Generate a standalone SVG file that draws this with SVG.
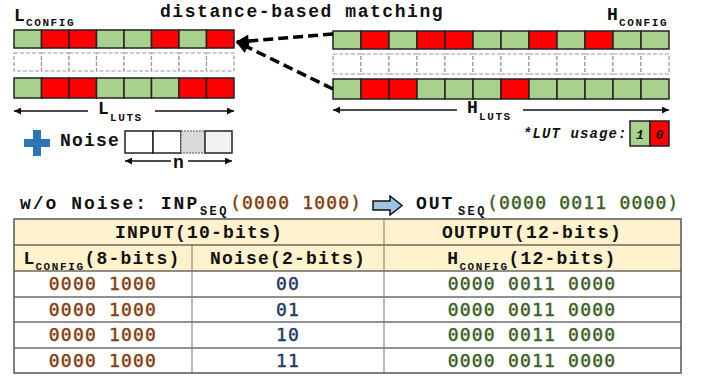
<svg xmlns="http://www.w3.org/2000/svg" width="702" height="377" viewBox="0 0 702 377">
<style>
.b{font-family:"Liberation Mono","Courier New",monospace;font-weight:bold;font-size:18px;letter-spacing:1.2px;fill:#111}
.sub{font-size:11px;letter-spacing:1.6px}
.d{font-family:"DejaVu Sans Mono",monospace;font-size:18px;letter-spacing:1.2px;stroke-width:0.45px}
.br{fill:#843C0C;stroke:#843C0C}.bl{fill:#1F3864;stroke:#1F3864}.gr{fill:#3B5E23;stroke:#3B5E23}
.g{fill:#A9D18E;stroke:#222;stroke-width:1.5}
.r{fill:#FF0000;stroke:#222;stroke-width:1.5}
.e{fill:#fff;stroke:#999;stroke-width:1.2;stroke-dasharray:4 2}
.ln{stroke:#111;stroke-width:1.5;fill:none}
.dash{stroke:#000;stroke-width:3.5;stroke-dasharray:10 5;fill:none}
.tl{stroke:#222;stroke-width:1;fill:none}
.tv{stroke:#777;stroke-width:1;fill:none}
</style>
<defs>
<marker id="ah" viewBox="0 0 10 10" refX="10" refY="5" markerWidth="9" markerHeight="7" markerUnits="userSpaceOnUse" orient="auto"><path d="M0,0L10,5L0,10z" fill="#111"/></marker>
<marker id="big" viewBox="0 0 10 10" refX="9" refY="5" markerWidth="15" markerHeight="13" markerUnits="userSpaceOnUse" orient="auto"><path d="M0,0L10,5L0,10z" fill="#000"/></marker>
</defs>

<text class="b" x="160" y="17" style="letter-spacing:1.55px">distance-based matching</text>

<g id="lconfig">
<text class="b" x="14" y="21">L<tspan class="sub" dy="5">CONFIG</tspan></text>
<g>
<rect class="g" x="14" y="30" width="27.5" height="18"/><rect class="r" x="41.5" y="30" width="27.5" height="18"/><rect class="r" x="69" y="30" width="27.5" height="18"/><rect class="g" x="96.5" y="30" width="27.5" height="18"/><rect class="g" x="124" y="30" width="27.5" height="18"/><rect class="r" x="151.5" y="30" width="27.5" height="18"/><rect class="g" x="179" y="30" width="27.5" height="18"/><rect class="r" x="206.5" y="30" width="27.5" height="18"/>
</g>
<g>
<rect class="e" x="14" y="53" width="27.5" height="18"/><rect class="e" x="41.5" y="53" width="27.5" height="18"/><rect class="e" x="69" y="53" width="27.5" height="18"/><rect class="e" x="96.5" y="53" width="27.5" height="18"/><rect class="e" x="124" y="53" width="27.5" height="18"/><rect class="e" x="151.5" y="53" width="27.5" height="18"/><rect class="e" x="179" y="53" width="27.5" height="18"/><rect class="e" x="206.5" y="53" width="27.5" height="18"/>
</g>
<g>
<rect class="g" x="14" y="78" width="27.5" height="20"/><rect class="r" x="41.5" y="78" width="27.5" height="20"/><rect class="r" x="69" y="78" width="27.5" height="20"/><rect class="g" x="96.5" y="78" width="27.5" height="20"/><rect class="g" x="124" y="78" width="27.5" height="20"/><rect class="g" x="151.5" y="78" width="27.5" height="20"/><rect class="r" x="179" y="78" width="27.5" height="20"/><rect class="r" x="206.5" y="78" width="27.5" height="20"/>
</g>
</g>

<g id="llut">
<line class="ln" x1="88" y1="111" x2="14" y2="111" marker-end="url(#ah)"/>
<line class="ln" x1="155" y1="111" x2="234" y2="111" marker-end="url(#ah)"/>
<text class="b" x="98" y="114">L<tspan class="sub" dy="7">LUTS</tspan></text>
</g>

<g id="hconfig">
<text class="b" x="607" y="20">H<tspan class="sub" dy="6">CONFIG</tspan></text>
<g>
<rect class="g" x="333" y="31" width="28" height="18"/><rect class="r" x="361" y="31" width="28" height="18"/><rect class="g" x="389" y="31" width="28" height="18"/><rect class="r" x="417" y="31" width="28" height="18"/><rect class="r" x="445" y="31" width="28" height="18"/><rect class="g" x="473" y="31" width="28" height="18"/><rect class="g" x="501" y="31" width="28" height="18"/><rect class="r" x="529" y="31" width="28" height="18"/><rect class="g" x="557" y="31" width="28" height="18"/><rect class="r" x="585" y="31" width="28" height="18"/><rect class="g" x="613" y="31" width="28" height="18"/><rect class="g" x="641" y="31" width="28" height="18"/>
</g>
<g>
<rect class="e" x="333" y="54" width="28" height="20"/><rect class="e" x="361" y="54" width="28" height="20"/><rect class="e" x="389" y="54" width="28" height="20"/><rect class="e" x="417" y="54" width="28" height="20"/><rect class="e" x="445" y="54" width="28" height="20"/><rect class="e" x="473" y="54" width="28" height="20"/><rect class="e" x="501" y="54" width="28" height="20"/><rect class="e" x="529" y="54" width="28" height="20"/><rect class="e" x="557" y="54" width="28" height="20"/><rect class="e" x="585" y="54" width="28" height="20"/><rect class="e" x="613" y="54" width="28" height="20"/><rect class="e" x="641" y="54" width="28" height="20"/>
</g>
<g>
<rect class="g" x="333" y="79" width="28" height="20"/><rect class="r" x="361" y="79" width="28" height="20"/><rect class="r" x="389" y="79" width="28" height="20"/><rect class="g" x="417" y="79" width="28" height="20"/><rect class="g" x="445" y="79" width="28" height="20"/><rect class="g" x="473" y="79" width="28" height="20"/><rect class="r" x="501" y="79" width="28" height="20"/><rect class="g" x="529" y="79" width="28" height="20"/><rect class="g" x="557" y="79" width="28" height="20"/><rect class="g" x="585" y="79" width="28" height="20"/><rect class="g" x="613" y="79" width="28" height="20"/><rect class="g" x="641" y="79" width="28" height="20"/>
</g>
</g>

<g id="hlut">
<line class="ln" x1="457" y1="110" x2="333" y2="110" marker-end="url(#ah)"/>
<line class="ln" x1="523" y1="110" x2="669" y2="110" marker-end="url(#ah)"/>
<text class="b" x="467" y="113">H<tspan class="sub" dy="7">LUTS</tspan></text>
</g>

<g id="connectors">
<line class="dash" x1="333" y1="34" x2="237" y2="42" marker-end="url(#big)"/>
<line class="dash" x1="333" y1="89" x2="237" y2="42" marker-end="url(#big)"/>
</g>

<g id="noise">
<rect x="24" y="139" width="26" height="8" fill="#2E75B6"/>
<rect x="33" y="130" width="8" height="26" fill="#2E75B6"/>
<text class="b" x="60" y="146">Noise</text>
<rect x="125" y="131" width="28" height="22" fill="#fff" stroke="#222" stroke-width="1.5"/>
<rect x="153" y="131" width="28" height="22" fill="#fff" stroke="#222" stroke-width="1.5"/>
<rect x="181" y="131" width="24" height="22" fill="#D9D9D9" stroke="#555" stroke-width="1" stroke-dasharray="2 1"/>
<rect x="205" y="131" width="27" height="22" fill="#F2F2F2" stroke="#222" stroke-width="1.5"/>
<line class="ln" x1="171" y1="161" x2="125" y2="161" marker-end="url(#ah)"/>
<line class="ln" x1="188" y1="161" x2="232" y2="161" marker-end="url(#ah)"/>
<text class="b" x="179" y="168" text-anchor="middle">n</text>
</g>

<g id="legend">
<text class="b" x="523" y="138" style="font-size:14px;font-style:italic;letter-spacing:1.1px">*LUT usage:</text>
<rect class="g" x="630" y="121" width="20" height="25"/>
<rect class="r" x="650" y="121" width="19" height="25"/>
<text class="b" x="640" y="139" text-anchor="middle" style="font-size:13px;font-style:italic;letter-spacing:0">1</text>
<text class="b" x="659.5" y="139" text-anchor="middle" style="font-size:13px;font-style:italic;letter-spacing:0">0</text>
</g>

<g id="seqline">
<text class="b" x="20" y="209" style="letter-spacing:2px">w/o Noise: INP</text>
<text class="b sub" x="200" y="215" style="font-size:12px;letter-spacing:2.4px">SEQ</text>
<text class="d br" x="230" y="209">(0000 1000)</text>
<path d="M373,201H390V196L402,205.5L390,215V210H373Z" fill="#9DC3E6" stroke="#111" stroke-width="1.5"/>
<text class="b" x="416" y="209" style="letter-spacing:2px">OUT</text>
<text class="b sub" x="458" y="215" style="font-size:12px;letter-spacing:2.4px">SEQ</text>
<text class="d gr" x="487" y="209">(0000 0011 0000)</text>
</g>

<g id="table">
<rect x="14" y="219" width="667" height="52" fill="#FFF2CC"/>
<line class="tl" x1="14" y1="245" x2="681" y2="245"/>
<line class="tl" x1="14" y1="271" x2="681" y2="271"/>
<line class="tl" x1="14" y1="297" x2="681" y2="297"/>
<line class="tl" x1="14" y1="322" x2="681" y2="322"/>
<line class="tl" x1="14" y1="348" x2="681" y2="348"/>
<line class="tv" x1="384" y1="219" x2="384" y2="373"/>
<line class="tv" x1="192" y1="245" x2="192" y2="373"/>
<rect x="14" y="219" width="667" height="154" fill="none" stroke="#555" stroke-width="1.5"/>
<text class="b" x="199" y="238" text-anchor="middle">INPUT(10-bits)</text>
<text class="b" x="532" y="238" text-anchor="middle">OUTPUT(12-bits)</text>
<text class="b" x="102" y="264" text-anchor="middle">L<tspan class="sub" dy="6">CONFIG</tspan><tspan dy="-6">(8-bits)</tspan></text>
<text class="b" x="288" y="264" text-anchor="middle">Noise(2-bits)</text>
<text class="b" x="532" y="264" text-anchor="middle">H<tspan class="sub" dy="6">CONFIG</tspan><tspan dy="-6">(12-bits)</tspan></text>
<g text-anchor="middle">
<text class="d br" x="103" y="290">0000 1000</text>
<text class="d bl" x="288" y="290">00</text>
<text class="d gr" x="532" y="290">0000 0011 0000</text>
<text class="d br" x="103" y="316">0000 1000</text>
<text class="d bl" x="288" y="316">01</text>
<text class="d gr" x="532" y="316">0000 0011 0000</text>
<text class="d br" x="103" y="341">0000 1000</text>
<text class="d bl" x="288" y="341">10</text>
<text class="d gr" x="532" y="341">0000 0011 0000</text>
<text class="d br" x="103" y="367">0000 1000</text>
<text class="d bl" x="288" y="367">11</text>
<text class="d gr" x="532" y="367">0000 0011 0000</text>
</g>
</g>
</svg>
